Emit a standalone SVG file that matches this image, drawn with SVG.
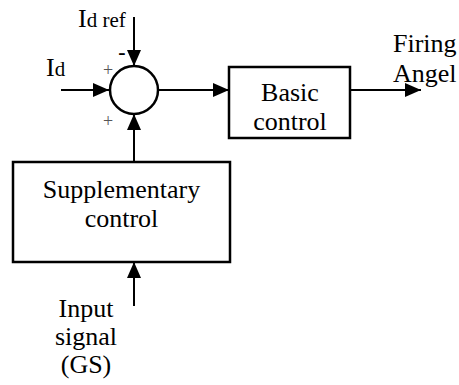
<svg xmlns="http://www.w3.org/2000/svg" width="459" height="385" viewBox="0 0 459 385" font-family="'Liberation Serif', 'Times New Roman', Times, 'DejaVu Serif', serif">
<style>
text{font-family:'Liberation Serif','Times New Roman',Times,'DejaVu Serif',serif;fill:#000}
.t{font-size:26px}
.s{font-size:21px}
.box{fill:#fff;stroke:#000;stroke-width:2.5}
.ln{fill:none;stroke:#000;stroke-width:2;marker-end:url(#ah)}
.pl{font-size:18px;fill:#555}
</style>
<defs>
<marker id="ah" markerUnits="userSpaceOnUse" markerWidth="16" markerHeight="14" refX="16" refY="7" orient="auto">
<path d="M0,0 L16,7 L0,14 z" fill="#000"/>
</marker>
</defs>
<rect width="459" height="385" fill="#fff"/>
<g id="connectors">
<path class="ln" d="M61,90 L109,90"/>
<path class="ln" d="M134,17 L134,66"/>
<path class="ln" d="M158,90 L229,90"/>
<path class="ln" d="M350,90 L421,90"/>
<path class="ln" d="M134,162 L134,114"/>
<path class="ln" d="M134,306 L134,262"/>
</g>
<g id="sum">
<circle cx="134" cy="90" r="24" fill="#fff" stroke="#000" stroke-width="2.5"/>
<text class="pl" x="108" y="76" text-anchor="middle">+</text>
<text class="pl" x="108" y="127" text-anchor="middle">+</text>
<text x="122" y="59" text-anchor="middle" style="font-size:22px;font-weight:bold">-</text>
</g>
<g id="idref">
<text x="78" y="27"><tspan class="t">I</tspan><tspan class="s">d ref</tspan></text>
</g>
<g id="id">
<text x="46" y="76"><tspan class="t">I</tspan><tspan class="s">d</tspan></text>
</g>
<g id="basic">
<rect class="box" x="229" y="67" width="121" height="71"/>
<text class="t" x="290" y="101" text-anchor="middle">Basic</text>
<text class="t" x="290" y="130" text-anchor="middle">control</text>
</g>
<g id="firing">
<text class="t" x="393" y="52">Firing</text>
<text class="t" x="393" y="82">Angel</text>
</g>
<g id="supp">
<rect class="box" x="13" y="162" width="217" height="100"/>
<text class="t" x="121.5" y="198" text-anchor="middle">Supplementary</text>
<text class="t" x="121.5" y="227" text-anchor="middle">control</text>
</g>
<g id="input">
<text class="t" x="86" y="317" text-anchor="middle">Input</text>
<text class="t" x="86" y="345" text-anchor="middle">signal</text>
<text class="t" x="86" y="373" text-anchor="middle">(GS)</text>
</g>
</svg>
